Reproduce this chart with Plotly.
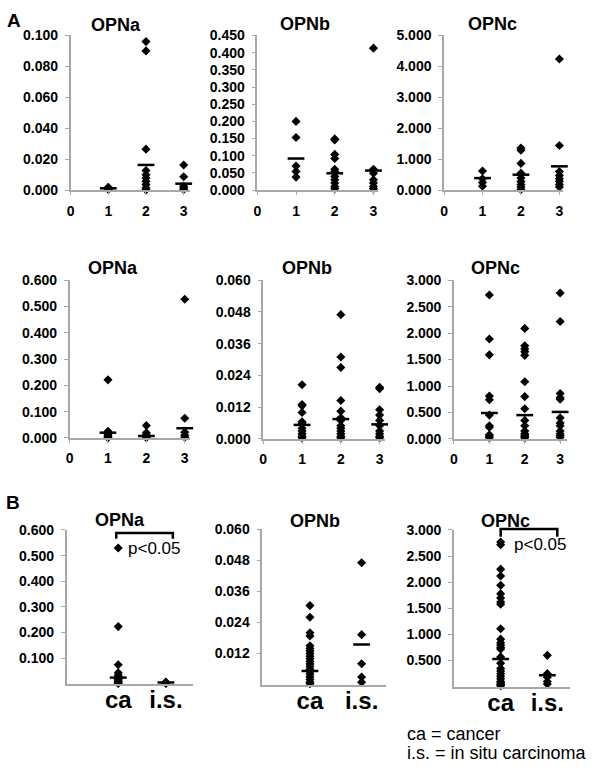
import plotly.graph_objects as go

W, H = 600, 775
FONT = "Liberation Sans, Arial, Helvetica, sans-serif"

# ---------------- data ----------------
num_groups = [1, 2, 3]
num_tickvals = [0, 1, 2, 3]
num_ticktext = ["0", "1", "2", "3"]
b_groups = [1, 2]
b_ticktext = ["ca", "i.s."]

# Panel A, upper row
a1_opna = [[0.0019, 0.0015, 0.0012, 0.0008, 0.0005],
           [0.096, 0.090, 0.0265, 0.0127, 0.010, 0.0078, 0.0057, 0.0036, 0.0015, 0.0002],
           [0.0163, 0.0087, 0.0025, 0.0015, 0.0004]]
a1_opna_mean = [0.0012, 0.0163, 0.0042]

a1_opnb = [[0.200, 0.153, 0.070, 0.054, 0.038],
           [0.149, 0.146, 0.104, 0.092, 0.061, 0.054, 0.040, 0.030, 0.021, 0.011, 0.004],
           [0.413, 0.061, 0.049, 0.030, 0.021, 0.011, 0.004]]
a1_opnb_mean = [0.092, 0.049, 0.057]

a1_opnc = [[0.62, 0.37, 0.25, 0.13],
           [1.36, 1.29, 0.865, 0.55, 0.39, 0.28, 0.18, 0.10, 0.02],
           [4.24, 1.445, 0.60, 0.47, 0.37, 0.28, 0.18, 0.10]]
a1_opnc_mean = [0.39, 0.50, 0.77]

# Panel A, lower row
a2_opna = [[0.221, 0.025, 0.015, 0.010, 0.004, 0.001],
           [0.047, 0.020, 0.012, 0.004, 0.001],
           [0.528, 0.075, 0.022, 0.010, 0.0025]]
a2_opna_mean = [0.020, 0.0075, 0.037]

a2_opnb = [[0.0205, 0.013, 0.0125, 0.010, 0.0065, 0.006, 0.004, 0.003, 0.002, 0.001, 0.0004],
           [0.047, 0.031, 0.027, 0.0145, 0.0105, 0.008, 0.007, 0.005, 0.004, 0.003, 0.002, 0.001, 0.0004],
           [0.0195, 0.019, 0.011, 0.009, 0.007, 0.005, 0.003, 0.002, 0.001, 0.0004]]
a2_opnb_mean = [0.0053, 0.0075, 0.0055]

a2_opnc = [[2.72, 1.89, 1.59, 0.81, 0.74, 0.45, 0.25, 0.22, 0.08, 0.05, 0.02],
           [2.09, 1.76, 1.70, 1.65, 1.58, 1.08, 0.80, 0.57, 0.35, 0.25, 0.15, 0.10, 0.07, 0.04, 0.02],
           [2.76, 2.22, 0.86, 0.78, 0.75, 0.40, 0.30, 0.25, 0.15, 0.10, 0.06, 0.03]]
a2_opnc_mean = [0.49, 0.45, 0.51]

# Panel B
b_opna = [[0.530, 0.223, 0.074, 0.043, 0.033, 0.024, 0.017, 0.012, 0.008, 0.004, 0.001],
          [0.0066, 0.004, 0.0013]]
b_opna_mean = [0.024, 0.005]

b_opnb = [[0.0305, 0.026, 0.020, 0.0188, 0.015, 0.014, 0.013, 0.012, 0.011, 0.010, 0.009,
           0.008, 0.007, 0.006, 0.005, 0.004, 0.003, 0.002, 0.001, 0.0004],
          [0.047, 0.0193, 0.0081, 0.003, 0.001]]
b_opnb_mean = [0.0053, 0.0155]

b_opnc = [[2.77, 2.72, 2.25, 2.12, 1.94, 1.78, 1.70, 1.62, 1.58, 1.11, 0.91, 0.84, 0.80, 0.75,
           0.72, 0.57, 0.45, 0.35, 0.30, 0.25, 0.20, 0.15, 0.10, 0.07, 0.04, 0.02],
          [0.60, 0.25, 0.18, 0.10, 0.05]]
b_opnc_mean = [0.53, 0.22]

titles = ["OPNa", "OPNb", "OPNc"]

# ---------------- layout helpers ----------------
def xp(px):
    return px / W


def yp(py):
    return 1 - py / H


# (data, means, groups, x-domain px, y-domain px (top, bottom), x-range, y-range, yticks, title, title pos)
panels = [
    (a1_opna, a1_opna_mean, num_groups, (67, 187), (28, 186), [0, 3.16], [0, 0.1],
     [0, 0.02, 0.04, 0.06, 0.08, 0.1], titles[0], (113, 17)),
    (a1_opnb, a1_opnb_mean, num_groups, (255, 377), (28, 186), [0, 3.13], [0, 0.45],
     [0, 0.05, 0.1, 0.15, 0.2, 0.25, 0.3, 0.35, 0.4, 0.45], titles[1], (303, 16)),
    (a1_opnc, a1_opnc_mean, num_groups, (443, 563), (28, 186), [0, 3.1], [0, 5],
     [0, 1, 2, 3, 4, 5], titles[2], (492, 16)),
    (a2_opna, a2_opna_mean, num_groups, (66, 187), (278, 439), [0, 3.13], [0, 0.6],
     [0, 0.1, 0.2, 0.3, 0.4, 0.5, 0.6], titles[0], (110, 265)),
    (a2_opnb, a2_opnb_mean, num_groups, (261, 384), (278, 440), [0, 3.15], [0, 0.06],
     [0, 0.012, 0.024, 0.036, 0.048, 0.06], titles[1], (305, 265)),
    (a2_opnc, a2_opnc_mean, num_groups, (453, 567), (278, 440), [0, 3.2], [0, 3],
     [0, 0.5, 1, 1.5, 2, 2.5, 3], titles[2], (495, 265)),
    (b_opna, b_opna_mean, b_groups, (63, 190), (533, 690), [-0.083, 2.5625], [0, 0.6],
     [0.1, 0.2, 0.3, 0.4, 0.5, 0.6], titles[0], (117, 523)),
    (b_opnb, b_opnb_mean, b_groups, (260, 385), (532, 691), [0.077, 2.48], [0, 0.06],
     [0.012, 0.024, 0.036, 0.048, 0.06], titles[1], (313, 524)),
    (b_opnc, b_opnc_mean, b_groups, (453, 570), (533, 693), [0.0, 2.49], [0, 3],
     [0.5, 1, 1.5, 2, 2.5, 3], titles[2], (505, 524)),
]

fig = go.Figure()
layout = dict(
    width=W, height=H, margin=dict(l=0, r=0, t=0, b=0),
    paper_bgcolor="white", plot_bgcolor="white", showlegend=False,
    font=dict(family=FONT, color="black"),
)
annotations = []
AXC = "#a8a8a8"

for i, (data, means, groups, xd, ydm, xr, yr, yt, title, tpos) in enumerate(panels):
    n = i + 1
    xa = "x" if n == 1 else f"x{n}"
    ya = "y" if n == 1 else f"y{n}"
    for g, vals in zip(groups, data):
        fig.add_trace(go.Scatter(
            x=[g] * len(vals), y=vals, mode="markers", xaxis=xa, yaxis=ya,
            marker=dict(symbol="diamond", size=7, color="black"),
            cliponaxis=False, hoverinfo="y"))
    fig.add_trace(go.Scatter(
        x=groups, y=means, mode="markers", xaxis=xa, yaxis=ya,
        marker=dict(symbol="line-ew", size=12, color="black",
                    line=dict(color="black", width=2.5)),
        cliponaxis=False, hoverinfo="y"))

    is_b = groups == b_groups
    xaxis = dict(
        domain=[xp(xd[0]), xp(xd[1])], range=xr, anchor=ya,
        showline=True, linecolor=AXC, linewidth=1.5, showgrid=False, zeroline=False,
        fixedrange=True,
    )
    if is_b:
        xaxis.update(tickvals=b_groups, ticktext=b_ticktext, ticks="",
                     tickfont=dict(size=24, weight="bold", family=FONT),
                     ticklabelstandoff=-6)
    else:
        xaxis.update(tickvals=num_tickvals, ticktext=num_ticktext, ticks="outside",
                     ticklen=3, tickcolor=AXC,
                     tickfont=dict(size=14, weight="bold", family=FONT),
                     ticklabelstandoff=4)
    yaxis = dict(
        domain=[yp(ydm[1]), yp(ydm[0])], range=yr, anchor=xa,
        showline=True, linecolor=AXC, linewidth=1.5, showgrid=False, zeroline=False,
        tickvals=yt, tickformat=".3f", ticks="outside", ticklen=4, tickcolor=AXC,
        tickfont=dict(size=14, weight="bold", family=FONT), ticklabelstandoff=4,
        fixedrange=True,
    )
    layout["xaxis" if n == 1 else f"xaxis{n}"] = xaxis
    layout["yaxis" if n == 1 else f"yaxis{n}"] = yaxis
    annotations.append(dict(
        text=title, x=xp(tpos[0]), y=yp(tpos[1]), xref="paper", yref="paper",
        xanchor="center", yanchor="middle", showarrow=False,
        font=dict(size=18, weight="bold", family=FONT)))

# panel letters
annotations.append(dict(text="A", x=xp(1), y=yp(13), xref="paper", yref="paper",
                        xanchor="left", yanchor="middle", showarrow=False,
                        font=dict(size=19, weight="bold", family=FONT)))
annotations.append(dict(text="B", x=xp(0), y=yp(505), xref="paper", yref="paper",
                        xanchor="left", yanchor="middle", showarrow=False,
                        font=dict(size=19, weight="bold", family=FONT)))

# p-value labels
annotations.append(dict(text="p<0.05", x=xp(123), y=yp(552), xref="paper", yref="paper",
                        xanchor="left", yanchor="middle", showarrow=False,
                        font=dict(size=17, family=FONT)))
annotations.append(dict(text="p<0.05", x=xp(511), y=yp(548), xref="paper", yref="paper",
                        xanchor="left", yanchor="middle", showarrow=False,
                        font=dict(size=17, family=FONT)))

# footnote
annotations.append(dict(text="ca = cancer", x=xp(404), y=yp(741), xref="paper", yref="paper",
                        xanchor="left", yanchor="middle", showarrow=False,
                        font=dict(size=18, family=FONT)))
annotations.append(dict(text="i.s. = in situ carcinoma", x=xp(404), y=yp(761), xref="paper",
                        yref="paper", xanchor="left", yanchor="middle", showarrow=False,
                        font=dict(size=18, family=FONT)))

# significance brackets
shapes = []
for (x0, x1, ytop, ybot) in [(113, 170, 536, 542), (500, 557, 532, 540)]:
    shapes.append(dict(type="path", xref="paper", yref="paper",
                       path=f"M {xp(x0)},{yp(ybot)} L {xp(x0)},{yp(ytop)} L {xp(x1)},{yp(ytop)} L {xp(x1)},{yp(ybot)}",
                       line=dict(color="black", width=2.5)))

layout["annotations"] = annotations
layout["shapes"] = shapes
fig.update_layout(**layout)

fig.write_html("out.html", config={"displayModeBar": False},
               post_script="document.body.style.margin='0px';")
